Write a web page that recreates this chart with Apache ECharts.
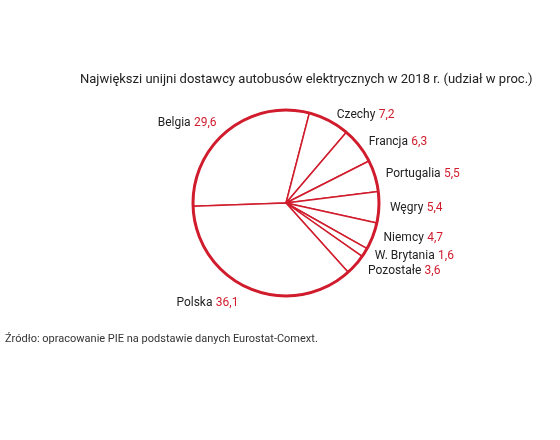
<!DOCTYPE html>
<html><head><meta charset="utf-8">
<script src="https://cdn.jsdelivr.net/npm/echarts@6/dist/echarts.min.js"></script>
<style>html,body{margin:0;padding:0;background:#fff}#c{width:560px;height:440px}</style>
</head><body><div id="c"></div>
<script>
const categories = ['Belgia','Czechy','Francja','Portugalia','Węgry','Niemcy','W. Brytania','Pozostałe','Polska'];
const shares = [29.6,7.2,6.3,5.5,5.4,4.7,1.6,3.6,36.1];
const titleText = 'Największi unijni dostawcy autobusów elektrycznych w 2018 r. (udział w proc.)';
const sourceText = 'Źródło: opracowanie PIE na podstawie danych Eurostat-Comext.';
const RED = '#d01c2c';
const fmt = v => v.toFixed(1).replace('.', ',');
const labelGap = {'Polska':16, 'Pozostałe':10, 'Belgia':10};
const chart = echarts.init(document.getElementById('c'), null, {renderer:'canvas'});
chart.setOption({
  backgroundColor:'#fff',
  animation:false,
  title:[
    {text:titleText, left:75, top:68, textStyle:{fontFamily:'Roboto', fontSize:13, fontWeight:'normal', color:'#222'}},
    {text:sourceText, left:0, top:329, textStyle:{fontFamily:'Roboto', fontSize:11, fontWeight:'normal', color:'#333'}}
  ],
  series:[
    {
      type:'pie', center:[286,203], radius:[0,93], startAngle:182, clockwise:true,
      silent:true,
      data: categories.map((n,i)=>({name:n, value:shares[i],
        labelLine:{show:false, length: labelGap[n] || 6, length2:0}})),
      itemStyle:{color:'#fff', borderColor:RED, borderWidth:1.5},
      labelLine:{show:false, length:6, length2:0},
      label:{
        show:true, position:'outside',
        formatter: p => '{n|' + p.name + '} {v|' + fmt(p.value) + '}',
        rich:{
          n:{fontFamily:'Roboto', fontSize:12, color:'#222'},
          v:{fontFamily:'Roboto', fontSize:12, color:RED}
        }
      }
    },
    {
      type:'pie', center:[286,203], radius:[0,93], silent:true,
      data:[{name:'outline', value:1}],
      itemStyle:{color:'none', borderColor:RED, borderWidth:3},
      label:{show:false}, labelLine:{show:false}
    }
  ]
});
</script></body></html>
